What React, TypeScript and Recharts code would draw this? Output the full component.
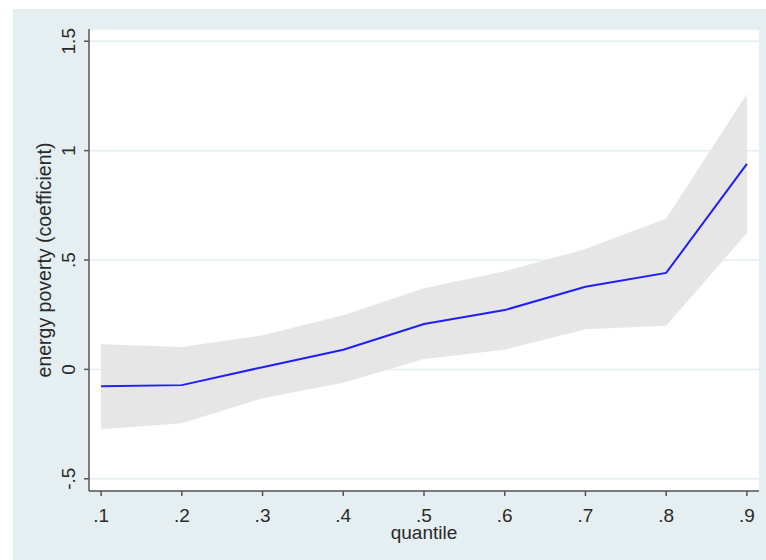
import { ComposedChart, Area, Line, XAxis, YAxis, CartesianGrid } from 'recharts';

const quantiles = [0.1, 0.2, 0.3, 0.4, 0.5, 0.6, 0.7, 0.8, 0.9];
const coef = [-0.077, -0.072, 0.01, 0.09, 0.207, 0.271, 0.378, 0.441, 0.939];
const upper = [0.115, 0.102, 0.156, 0.248, 0.371, 0.449, 0.55, 0.69, 1.259];
const lower = [-0.274, -0.246, -0.132, -0.061, 0.047, 0.09, 0.184, 0.199, 0.623];
const yTicks = [-0.5, 0, 0.5, 1, 1.5];

const data = quantiles.map((q, i) => ({ q, coef: coef[i], band: [lower[i], upper[i]] }));

const FONT = "Arial, 'Liberation Sans', sans-serif";
const TEXT = '#2a2a2a';
const AXIS = '#555';

// stata style: drop the leading zero
const fmt = (v: number) => (v === 0 ? '0' : String(v).replace(/^(-?)0\./, '$1.'));

function YTick({ x, y, payload }: any) {
  const bx = x - 9;
  return (
    <text x={bx} y={y} transform={`rotate(-90, ${bx}, ${y})`} textAnchor="middle"
      fontSize={19} fontFamily={FONT} fill={TEXT}>
      {fmt(payload.value)}
    </text>
  );
}

function XTick({ x, y, payload }: any) {
  return (
    <text x={x} y={y + 26} textAnchor="middle" fontSize={19} fontFamily={FONT} fill={TEXT}>
      {fmt(payload.value)}
    </text>
  );
}

function YLabel({ viewBox }: any) {
  const bx = 51;
  const cy = viewBox.y + viewBox.height / 2;
  return (
    <text x={bx} y={cy} transform={`rotate(-90, ${bx}, ${cy})`} textAnchor="middle"
      fontSize={19.5} fontFamily={FONT} fill={TEXT}>
      energy poverty (coefficient)
    </text>
  );
}

function XLabel({ viewBox }: any) {
  return (
    <text x={viewBox.x + viewBox.width / 2} y={539} textAnchor="middle"
      fontSize={19} fontFamily={FONT} fill={TEXT}>
      quantile
    </text>
  );
}

export default function App() {
  return (
    <div style={{ position: 'absolute', left: 0, top: 0, width: 766, height: 560, background: '#fff' }}>
      <div style={{ position: 'absolute', left: 13, top: 9, right: 0, bottom: 0, background: '#e5eef1' }} />
      <div style={{ position: 'absolute', left: 0, top: 0 }}>
        <ComposedChart width={766} height={560} data={data}
          margin={{ top: 29, right: 7, bottom: 0, left: 0 }}>
          <CartesianGrid vertical={false} fill="#fff" stroke="#e3eef2" strokeWidth={1.5} />
          <XAxis type="number" dataKey="q" domain={[0.085, 0.915]} ticks={quantiles}
            allowDataOverflow height={69} tickSize={5} tickMargin={0}
            stroke={AXIS} strokeWidth={1.5} tick={<XTick />} label={<XLabel />} />
          <YAxis type="number" domain={[-0.556, 1.556]} ticks={yTicks} allowDataOverflow
            width={89} tickSize={5} tickMargin={0}
            stroke={AXIS} strokeWidth={1.5} tick={<YTick />} label={<YLabel />} />
          <Area type="linear" dataKey="band" stroke="none" fill="#e6e6e6" fillOpacity={1}
            isAnimationActive={false} />
          <Line type="linear" dataKey="coef" stroke="#1f1ff5" strokeWidth={2} dot={false}
            isAnimationActive={false} />
        </ComposedChart>
      </div>
    </div>
  );
}
